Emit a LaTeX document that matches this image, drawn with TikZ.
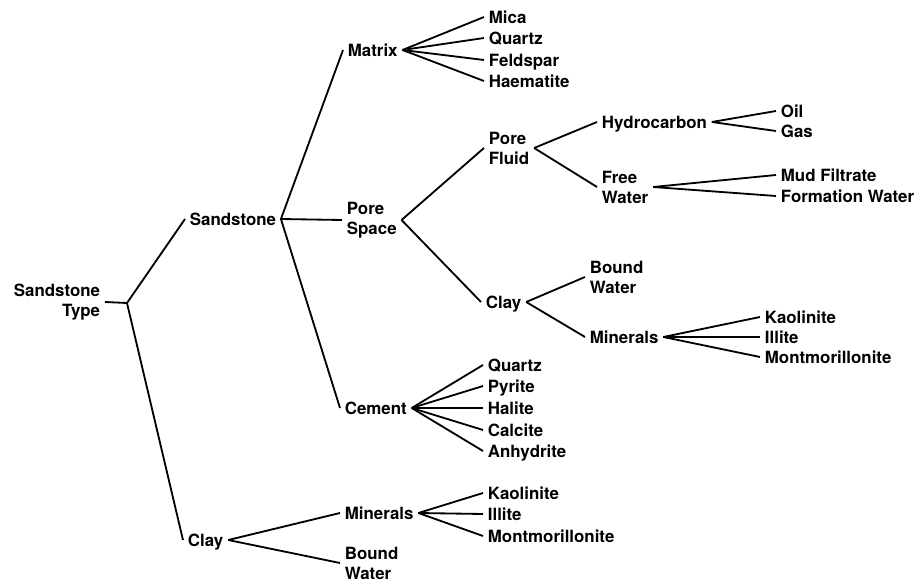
\documentclass[tikz,border=0pt]{standalone}
\usepackage{fontspec}
\setmainfont{TeX Gyre Heros}
\begin{document}
\begin{tikzpicture}[x=0.025cm, y=-0.025cm,
  every node/.style={font=\bfseries\fontsize{12}{14.2}\selectfont,inner xsep=3.5pt,inner ysep=1pt,outer sep=0pt},
  word/.style={anchor=west,text height=8.6pt,text depth=0pt},
  words/.style={anchor=west,align=left},
  edge/.style={line width=1.3pt}]
  \useasboundingbox (0,0) rectangle (923,584);
  \node [align=right,anchor=east] (type) at (105,302) {Sandstone\\Type};
  \coordinate (fork) at (127,303);
  \node [word] (sand) at (185,219) {Sandstone};
  \node [word] (clay) at (183,540) {Clay};
  \node [word] (matrix) at (343,50) {Matrix};
  \node [words] (space) at (342,220) {Pore\\Space};
  \node [word] (cement) at (340,408) {Cement};
  \node [word] (mica) at (484,17) {Mica};
  \node [word] (qtzm) at (484,38) {Quartz};
  \node [word] (feld) at (484,60) {Feldspar};
  \node [word] (haem) at (484,81) {Haematite};
  \node [words] (fluid) at (484,148) {Pore\\Fluid};
  \node [word] (clayp) at (481,302) {Clay};
  \node [word] (hydro) at (597,122) {Hydrocarbon};
  \node [words] (free) at (597,187) {Free\\Water};
  \node [word] (oil) at (776,111) {Oil};
  \node [word] (gas) at (776,131) {Gas};
  \node [word] (mud) at (776,175) {Mud Filtrate};
  \node [word] (form) at (776,196) {Formation Water};
  \node [words] (boundp) at (585,277) {Bound\\Water};
  \node [word] (minp) at (585,337) {Minerals};
  \node [word] (kaop) at (760,317) {Kaolinite};
  \node [word] (illp) at (760,337) {Illite};
  \node [word] (monp) at (760,357) {Montmorillonite};
  \node [word] (qtzc) at (483,365) {Quartz};
  \node [word] (pyr) at (483,386) {Pyrite};
  \node [word] (hal) at (483,408) {Halite};
  \node [word] (calc) at (483,430) {Calcite};
  \node [word] (anh) at (483,451) {Anhydrite};
  \node [word] (minc) at (340,513) {Minerals};
  \node [words] (boundc) at (340,563) {Bound\\Water};
  \node [word] (kaoc) at (483,493) {Kaolinite};
  \node [word] (illc) at (483,514) {Illite};
  \node [word] (monc) at (483,536) {Montmorillonite};
  \draw [edge] (type.east) -- (fork);
  \draw [edge] (fork) -- (sand.west);
  \draw [edge] (fork) -- (clay.west);
  \draw [edge] (sand.east) -- (matrix.west);
  \draw [edge] (sand.east) -- (space.west);
  \draw [edge] (sand.east) -- (cement.west);
  \draw [edge] (matrix.east) -- (mica.west);
  \draw [edge] (matrix.east) -- (qtzm.west);
  \draw [edge] (matrix.east) -- (feld.west);
  \draw [edge] (matrix.east) -- (haem.west);
  \draw [edge] (space.east) -- (fluid.west);
  \draw [edge] (space.east) -- (clayp.west);
  \draw [edge] (fluid.east) -- (hydro.west);
  \draw [edge] (fluid.east) -- (free.west);
  \draw [edge] (hydro.east) -- (oil.west);
  \draw [edge] (hydro.east) -- (gas.west);
  \draw [edge] (free.east) -- (mud.west);
  \draw [edge] (free.east) -- (form.west);
  \draw [edge] (clayp.east) -- (boundp.west);
  \draw [edge] (clayp.east) -- (minp.west);
  \draw [edge] (minp.east) -- (kaop.west);
  \draw [edge] (minp.east) -- (illp.west);
  \draw [edge] (minp.east) -- (monp.west);
  \draw [edge] (cement.east) -- (qtzc.west);
  \draw [edge] (cement.east) -- (pyr.west);
  \draw [edge] (cement.east) -- (hal.west);
  \draw [edge] (cement.east) -- (calc.west);
  \draw [edge] (cement.east) -- (anh.west);
  \draw [edge] (clay.east) -- (minc.west);
  \draw [edge] (clay.east) -- (boundc.west);
  \draw [edge] (minc.east) -- (kaoc.west);
  \draw [edge] (minc.east) -- (illc.west);
  \draw [edge] (minc.east) -- (monc.west);
\end{tikzpicture}
\end{document}
